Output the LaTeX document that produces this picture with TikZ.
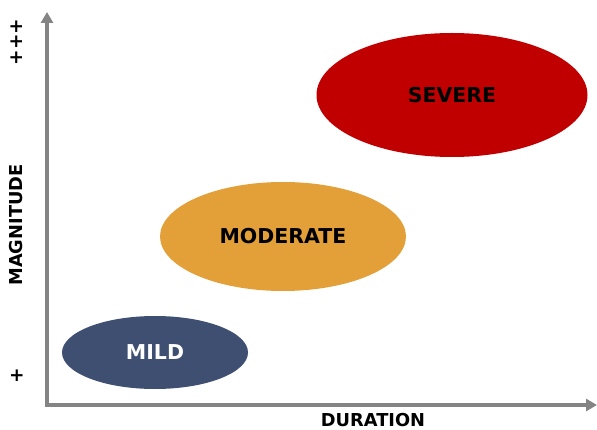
\documentclass[tikz,border=0pt]{standalone}
\usepackage{fontspec}
\setmainfont{DejaVu Sans}
\usetikzlibrary{arrows.meta}
\definecolor{axisgray}{HTML}{848484}
\definecolor{severe}{HTML}{C00000}
\definecolor{moderate}{HTML}{E3A039}
\definecolor{mild}{HTML}{3F4F71}
\tikzset{
  axis/.style={draw=axisgray, line width=4pt, line join=miter,
    {Triangle[width=12pt,length=11pt]}-{Triangle[width=12pt,length=11pt]}},
  bloblabel/.style={font=\bfseries\fontsize{20.5}{24}\selectfont},
  axislabel/.style={font=\bfseries\fontsize{17.8}{21}\selectfont, inner sep=0pt},
  plus/.style={font=\bfseries\fontsize{18.5}{22}\selectfont, inner sep=0pt}
}
\begin{document}
\begin{tikzpicture}[x=1pt,y=-1pt]
\useasboundingbox (0,0) rectangle (597,430);
\coordinate (ytop) at (47,12);
\coordinate (origin) at (47,405);
\coordinate (xend) at (597,405);
\draw[axis] (ytop) -- (origin) -- (xend);
% ellipses
\fill[severe] (452,95) ellipse [x radius=135.5, y radius=62];
\node[bloblabel] (sev) at (452,95) {SEVERE};
\fill[moderate] (283,236.5) ellipse [x radius=123, y radius=54.5];
\node[bloblabel] (mod) at (283,236.5) {MODERATE};
\fill[mild] (155,352.5) ellipse [x radius=93, y radius=36.5];
\node[bloblabel, text=white] (mil) at (155,352.5) {MILD};
% labels
\node[axislabel] (dur) at (373,420) {DURATION};
\node[axislabel, rotate=90] (mag) at (16,225) {MAGNITUDE};
\node[plus, rotate=90] (ppp) at (17,42) {+++};
\node[plus] (p) at (17,376) {+};
\end{tikzpicture}
\end{document}
